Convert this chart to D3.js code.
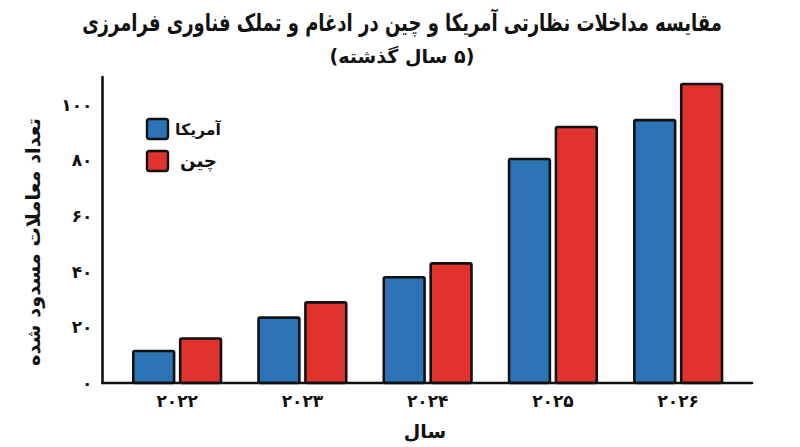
<!DOCTYPE html>
<html>
<head>
<meta charset="utf-8">
<script src="https://cdn.jsdelivr.net/npm/d3@7"></script>
<style>
  html, body { margin: 0; padding: 0; background: #fff; }
  svg { display: block; }
  text { font-family: "DejaVu Sans", sans-serif; font-weight: bold; fill: #111; }
</style>
</head>
<body>
<div id="chart"></div>
<script>
// --- Data ---
const years = ["2022", "2023", "2024", "2025", "2026"];
const seriesNames = ["آمریکا", "چین"];
const usValues = [11.5, 23.5, 38, 80.5, 94.5];
const chinaValues = [16, 29, 43, 92, 107.5];
const yTicks = [0, 20, 40, 60, 80, 100];
const colors = ["#2c73b5", "#e0332e"];

const titleLines = ["مقایسه مداخلات نظارتی آمریکا و چین در ادغام و تملک فناوری فرامرزی", "(۵ سال گذشته)"];
const xTitle = "سال";
const yTitle = "تعداد معاملات مسدود شده";

const width = 800, height = 447;
const margin = { top: 77, right: 48, bottom: 64, left: 102.5 };

// Persian digits
const fa = s => String(s).replace(/[0-9]/g, d => "۰۱۲۳۴۵۶۷۸۹"[+d]);

// scale font-size so the text gets a given width
function fitWidth(sel, target, maxSize) {
    const w = sel.node().getComputedTextLength();
    const fs = +sel.attr("font-size");
    sel.attr("font-size", Math.min(maxSize || 99, fs * target / w));
}

const svg = d3.select("#chart").append("svg")
    .attr("width", width)
    .attr("height", height)
    .attr("viewBox", [0, 0, width, height]);

const x0 = d3.scaleBand()
    .domain(years)
    .range([114.5, 740.8])
    .paddingInner(0.3)
    .paddingOuter(0.15);

const x1 = d3.scaleBand()
    .domain(seriesNames)
    .range([0, x0.bandwidth()])
    .paddingInner(0.13);

const y = d3.scaleLinear()
    .domain([0, 110])
    .range([height - margin.bottom, margin.top]);

const data = years.map((yr, i) => ({
    year: yr,
    values: [
        { name: seriesNames[0], value: usValues[i], color: colors[0] },
        { name: seriesNames[1], value: chinaValues[i], color: colors[1] }
    ]
}));

// --- Bars ---
svg.append("g")
    .selectAll("g.group")
    .data(data)
    .join("g")
    .attr("class", "group")
    .attr("transform", d => `translate(${x0(d.year)},0)`)
    .selectAll("rect")
    .data(d => d.values)
    .join("rect")
    .attr("x", d => x1(d.name))
    .attr("y", d => y(d.value))
    .attr("width", x1.bandwidth())
    .attr("height", d => y(0) - y(d.value))
    .attr("rx", 1.5)
    .attr("fill", d => d.color)
    .attr("stroke", "#111")
    .attr("stroke-width", 2.6)
    .attr("stroke-linejoin", "round");

// --- Axes ---
const xAxis = d3.axisBottom(x0).tickSize(0).tickPadding(12).tickFormat(fa);
const yAxis = d3.axisLeft(y).tickValues(yTicks).tickSize(0).tickPadding(10).tickFormat(fa);

const gx = svg.append("g")
    .attr("transform", `translate(0,${y(0)})`)
    .call(xAxis);
gx.select(".domain").attr("d", `M${margin.left},0H${width - margin.right}`)
    .attr("stroke", "#111").attr("stroke-width", 2.6).attr("stroke-linecap", "round");
gx.selectAll(".tick text")
    .attr("font-size", 17)
    .attr("font-family", null)
    .attr("fill", "#111");

const gy = svg.append("g")
    .attr("transform", `translate(${margin.left},0)`)
    .call(yAxis);
gy.select(".domain").attr("d", `M0,${margin.top}V${y(0)}`)
    .attr("stroke", "#111").attr("stroke-width", 2.6).attr("stroke-linecap", "round");
gy.selectAll(".tick text")
    .attr("font-size", 17)
    .attr("font-family", null)
    .attr("fill", "#111");

// --- Titles ---
// line 1: keep the tall glyphs, squeeze horizontally
const t1 = svg.append("g").attr("transform", `translate(${width / 2 + 2},31)`);
const t1text = t1.append("text")
    .attr("text-anchor", "middle")
    .attr("direction", "rtl")
    .attr("font-size", 24)
    .text(titleLines[0]);
const t1w = t1text.node().getComputedTextLength();
t1text.attr("transform", `scale(${Math.min(1, 640 / t1w)},1)`);

const t2 = svg.append("text")
    .attr("x", width / 2 + 2)
    .attr("y", 63)
    .attr("text-anchor", "middle")
    .attr("direction", "rtl")
    .attr("font-size", 22)
    .text(titleLines[1]);
fitWidth(t2, 145, 23);

svg.append("text")
    .attr("x", 425)
    .attr("y", 438)
    .attr("text-anchor", "middle")
    .attr("direction", "rtl")
    .attr("font-size", 19)
    .text(xTitle);

const yt = svg.append("text")
    .attr("transform", `translate(40,${(margin.top + y(0)) / 2 + 12}) rotate(-90)`)
    .attr("text-anchor", "middle")
    .attr("direction", "rtl")
    .attr("font-size", 19)
    .text(yTitle);
fitWidth(yt, 248, 21);

// --- Legend ---
const legendTextWidth = [46, 37];
const legendItems = svg.append("g")
    .selectAll("g")
    .data(seriesNames)
    .join("g")
    .attr("transform", (d, i) => `translate(147,${119 + i * 32})`);

legendItems.append("rect")
    .attr("width", 21)
    .attr("height", 20)
    .attr("rx", 2.5)
    .attr("fill", (d, i) => colors[i])
    .attr("stroke", "#111")
    .attr("stroke-width", 2.4);

legendItems.append("text")
    .attr("x", (d, i) => i === 0 ? 74 : 70)
    .attr("y", 16)
    .attr("text-anchor", "start")
    .attr("direction", "rtl")
    .attr("font-size", 19)
    .text(d => d)
    .each(function (d, i) { fitWidth(d3.select(this), legendTextWidth[i], 20); });
</script>
</body>
</html>
